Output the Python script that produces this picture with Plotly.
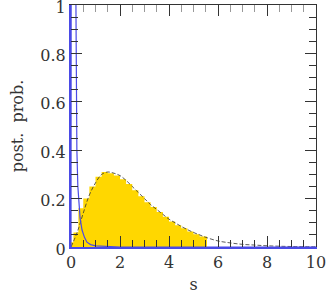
import plotly.graph_objects as go

# dashed posterior curve
s_curve = [0, 0.25, 0.5, 0.75, 1.0, 1.25, 1.5, 1.75, 2.0, 2.25, 2.5, 2.75, 3.0, 3.25, 3.5,
           3.75, 4.0, 4.25, 4.5, 4.75, 5.0, 5.25, 5.5, 6.0, 6.5, 7.0, 7.5, 8.0, 9.0, 10.0]
p_curve = [0, 0.06, 0.14, 0.215, 0.265, 0.30, 0.31, 0.305, 0.295, 0.275, 0.25, 0.225, 0.20,
           0.175, 0.155, 0.135, 0.115, 0.10, 0.085, 0.072, 0.06, 0.05, 0.04, 0.025, 0.017,
           0.011, 0.008, 0.005, 0.002, 0.001]

# yellow step-shaded region
s_fill = [0, 0.1, 0.3, 0.5, 0.75, 1.0, 1.25, 1.5, 1.75, 2.0, 2.25, 2.5, 2.75, 3.0, 3.25, 3.5,
          3.75, 4.0, 4.25, 4.5, 4.75, 5.0, 5.25, 5.55]
p_fill = [0.02, 0.06, 0.16, 0.2, 0.25, 0.29, 0.31, 0.305, 0.295, 0.28, 0.26, 0.235, 0.21,
          0.185, 0.165, 0.145, 0.125, 0.105, 0.09, 0.077, 0.064, 0.053, 0.043, 0.043]

# blue spike curve
s_blue = [0, 0.01, 0.2, 0.22, 0.24, 0.28, 0.32, 0.37, 0.45, 0.55, 0.65, 0.8, 1.0, 1.5, 2.0, 10.0]
p_blue = [0, 1.6, 1.02, 0.7, 0.4, 0.25, 0.17, 0.12, 0.07, 0.04, 0.02, 0.01, 0.005, 0.001, 0, 0]

x_ticks = [0, 2, 4, 6, 8, 10]
y_ticks = [0, 0.2, 0.4, 0.6, 0.8, 1]
y_tick_text = ["0", "0.2", "0.4", "0.6", "0.8", "1"]

BLUE = "#4a4ae6"
FONT = "DejaVu Serif"
TXT = "#333"

fig = go.Figure()
fig.add_trace(go.Scatter(x=s_fill, y=p_fill, mode="lines", line=dict(width=0, shape="hv"),
                         fill="tozeroy", fillcolor="#FFD700", hoverinfo="skip"))
fig.add_trace(go.Scatter(x=s_curve, y=p_curve, mode="lines",
                         line=dict(color="#333333", width=0.8, dash="4px,2px", shape="spline")))
fig.add_trace(go.Scatter(x=s_blue, y=p_blue, mode="lines",
                         line=dict(color=BLUE, width=1.2)))

common = dict(ticks="inside", showgrid=False, zeroline=False, showline=True, automargin=False,
              ticklabeloverflow="allow",
              tickfont=dict(family=FONT, size=16, color=TXT), ticklen=11, tickwidth=1,
              tickcolor="#333")
fig.update_xaxes(range=[0, 10], tickvals=x_ticks, linecolor=BLUE, linewidth=2, **common,
                 minor=dict(dtick=0.5, ticklen=7, tickcolor="#333", ticks="inside"),
                 title=dict(text="s", font=dict(family=FONT, size=16, color=TXT), standoff=8))
fig.update_yaxes(range=[0, 1], tickvals=y_ticks, ticktext=y_tick_text, linecolor=BLUE,
                 linewidth=2, ticklabelshift=2, **common,
                 minor=dict(dtick=0.05, ticklen=7, tickcolor="#333", ticks="inside"),
                 title=dict(text="post.  prob.", font=dict(family=FONT, size=16, color=TXT),
                            standoff=13))
# mirrored frame with ticks on top and right
fig.update_layout(
    xaxis2=dict(overlaying="x", side="top", range=[0, 10], tickvals=x_ticks, showticklabels=False,
                ticks="inside", ticklen=11, tickcolor="#333", showline=True, linecolor="#333",
                linewidth=1, showgrid=False, zeroline=False, automargin=False,
                minor=dict(dtick=0.5, ticklen=7, tickcolor="#999", ticks="inside")),
    yaxis2=dict(overlaying="y", side="right", range=[0, 1], tickvals=y_ticks, showticklabels=False,
                ticks="inside", ticklen=11, tickcolor="#333", showline=True, linecolor="#333",
                linewidth=1, showgrid=False, zeroline=False, automargin=False,
                minor=dict(dtick=0.05, ticklen=7, tickcolor="#333", ticks="inside")),
)
fig.add_trace(go.Scatter(x=[None], y=[None], xaxis="x2", yaxis="y2", showlegend=False))

fig.update_layout(width=327, height=299, margin=dict(l=71, r=11, t=5, b=52),
                  plot_bgcolor="white", paper_bgcolor="white", showlegend=False)
fig.write_html("out.html", config={"displayModeBar": False},
               post_script="document.body.style.margin='0';")
